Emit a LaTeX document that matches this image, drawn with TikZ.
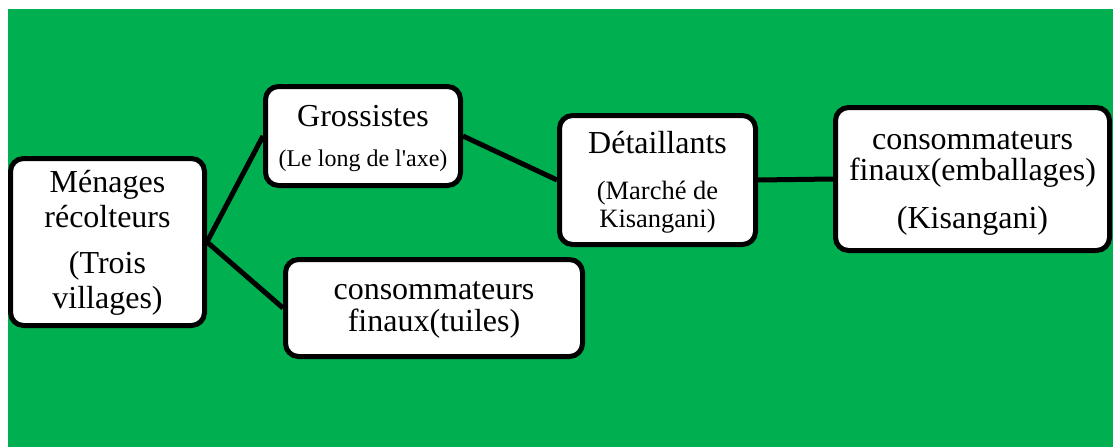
\documentclass[tikz,border=0pt]{standalone}
\usepackage{fontspec}
\setmainfont{Liberation Serif}
\definecolor{bggreen}{RGB}{0,176,80}
\begin{document}
\begin{tikzpicture}[x=1pt,y=-1pt,
  box/.style={draw, line width=5pt, fill=white, rounded corners=13pt, inner sep=0pt},
  txt/.style={align=center, font=\fontsize{32}{35}\selectfont, inner sep=0pt},
  link/.style={line width=5pt}]
\useasboundingbox (0,0) rectangle (1113,447);
\fill[bggreen] (8,9) rectangle (1113,447);
% boxes
\node[box, minimum width=194pt, minimum height=167pt] (m) at (107.5,242) {};
\node[box, minimum width=195pt, minimum height=99pt] (g) at (363,136) {};
\node[box, minimum width=196pt, minimum height=129pt] (d) at (657.5,180) {};
\node[box, minimum width=274pt, minimum height=143pt] (e) at (972.5,179) {};
\node[box, minimum width=297pt, minimum height=97pt] (t) at (434,308) {};
% connectors
\begin{scope}[on background layer/.style={}]
\draw[link] (m.east) -- (g.west);
\draw[link] (m.east) -- (t.west);
\draw[link] (g.east) -- (d.west);
\draw[link] (d.east) -- (e.west);
\end{scope}
% texts
\node[txt] (mt) at (107.5,243) {Ménages\\récolteurs\\[11pt](Trois\\villages)};
\node[txt] (gt) at (363,138) {Grossistes\\[5pt]{\fontsize{24}{24}\selectfont(Le long de l\textquotesingle axe)}};
\node[txt] (dt) at (657.5,182) {Détaillants\\[11pt]{\fontsize{26.5}{28}\selectfont(Marché de}\\[-7pt]{\fontsize{26.5}{28}\selectfont Kisangani)}};
\node[txt] (et) at (972.5,183.5) {consommateurs\\[-4pt]finaux(emballages)\\[13pt](Kisangani)};
\node[txt] (tt) at (434,310) {consommateurs\\[-3pt]finaux(tuiles)};
\end{tikzpicture}
\end{document}
